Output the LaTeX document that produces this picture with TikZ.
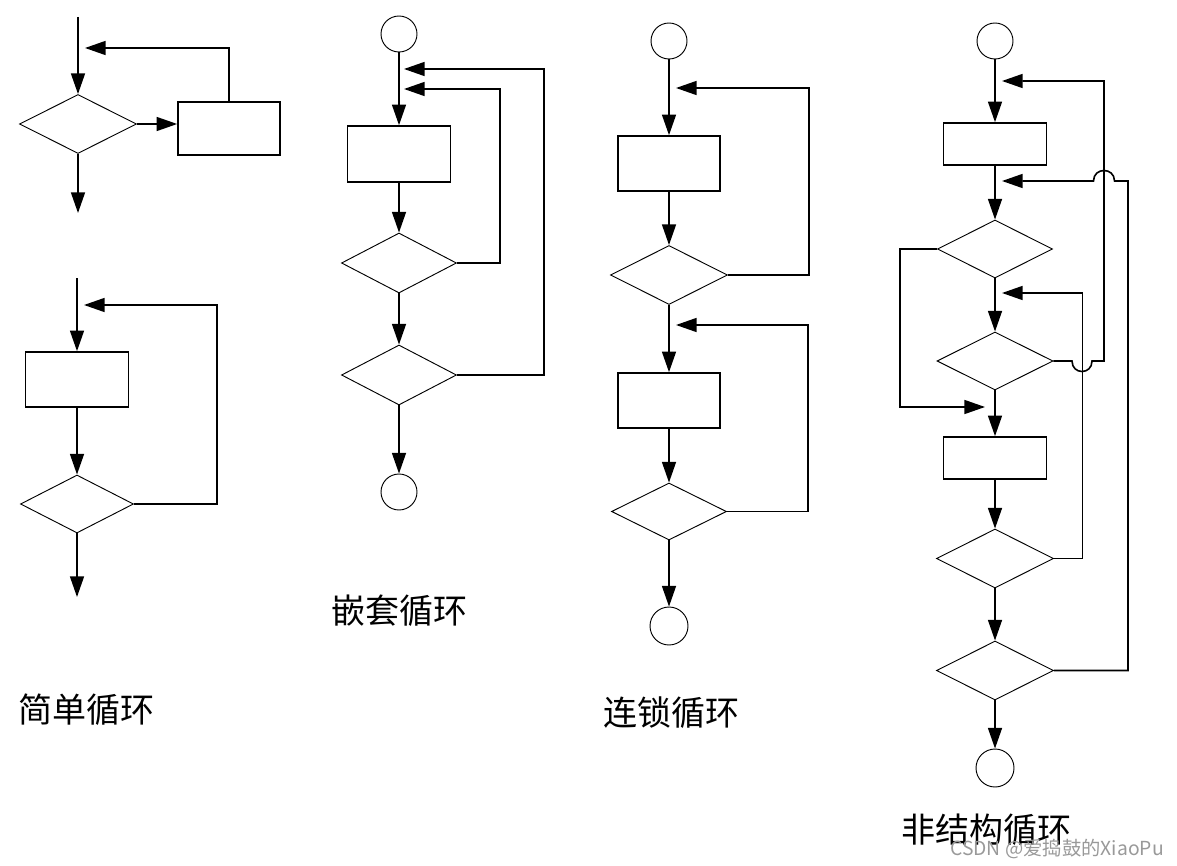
\documentclass[tikz,border=0pt]{standalone}
\usepackage{fontspec}
\newfontfamily\cjk{Noto Sans CJK SC}
\usetikzlibrary{shapes.geometric,arrows.meta}
\begin{document}
\begin{tikzpicture}[x=0.75pt,y=-0.75pt,
  arr/.style={line width=1.2pt,-{Triangle[length=15.5pt,width=10.5pt]}},
  box/.style={draw,line width=1.2pt,inner sep=0pt,minimum width=76.5pt,minimum height=41.25pt},
  sbox/.style={draw,line width=1.2pt,inner sep=0pt,minimum width=77.25pt,minimum height=31.5pt},
  dia/.style={diamond,draw,line width=0.7pt,inner sep=0pt,minimum width=87pt,minimum height=44pt},
  circ/.style={circle,draw,line width=0.7pt,inner sep=0pt,minimum size=27pt},
  lbl/.style={font=\cjk\fontsize{25.5}{30}\selectfont,inner sep=0pt},
  wm/.style={font=\cjk\fontsize{14.5}{16}\selectfont,text=black!40,inner sep=0pt}]
\useasboundingbox (0,0) rectangle (1177,866);

% ---------- simple loop (top) ----------
\coordinate (s1) at (78,17);
\node[dia,minimum width=87.75pt,minimum height=44.25pt] (d1) at (78,124) {};
\node[box,minimum height=39.75pt] (r1) at (229,128.5) {};
\coordinate (f1) at (85,48);
\coordinate (e1) at (78,213);
\draw[arr] (s1) -- (d1.north);
\draw[arr] (d1.east) -- (d1.east -| r1.west);
\draw[arr] (r1.north) |- (f1);
\draw[arr] (d1.south) -- (e1);

% ---------- simple loop (bottom) ----------
\coordinate (s2) at (77,278);
\coordinate (f2) at (84,305);
\node[box,minimum width=77.25pt] (r2) at (77,379.5) {};
\node[dia,minimum width=84.75pt,minimum height=43.5pt] (d2) at (77,504) {};
\coordinate (e2) at (77,597);
\draw[arr] (s2) -- (r2.north);
\draw[arr] (r2.south) -- (d2.north);
\draw[arr] (d2.east) -- ++(83,0) |- (f2);
\draw[arr] (d2.south) -- (e2);

% ---------- nested loop ----------
\node[circ] (c2a) at (399,34) {};
\node[box,minimum width=77.25pt,minimum height=42pt] (r3) at (399,154) {};
\node[dia,minimum width=86.25pt,minimum height=45pt] (d3) at (399,263) {};
\node[dia,minimum width=86.25pt,minimum height=45pt] (d4) at (399,375) {};
\node[circ] (c2b) at (399,492) {};
\coordinate (f3) at (404,69);
\coordinate (f4) at (404,89);
\draw[arr] (c2a.south) -- (r3.north);
\draw[arr] (r3.south) -- (d3.north);
\draw[arr] (d3.south) -- (d4.north);
\draw[arr] (d4.south) -- (c2b.north);
\draw[arr] (d3.east) -- ++(43,0) |- (f4);
\draw[arr] (d4.east) -- ++(87,0) |- (f3);

% ---------- chained loop ----------
\node[circ] (c3a) at (669,41) {};
\node[box] (r5) at (669,163.5) {};
\node[dia,minimum width=87.75pt,minimum height=44.25pt] (d5) at (669,275) {};
\node[box] (r6) at (669,400.5) {};
\node[dia,minimum width=86.25pt,minimum height=42.75pt] (d6) at (669,511.5) {};
\node[circ,minimum size=28.5pt] (c3b) at (669,626) {};
\coordinate (f5) at (676,88);
\coordinate (f6) at (676,325);
\draw[arr] (c3a.south) -- (r5.north);
\draw[arr] (r5.south) -- (d5.north);
\draw[arr] (d5.south) -- (r6.north);
\draw[arr] (r6.south) -- (d6.north);
\draw[arr] (d6.south) -- (c3b.north);
\draw[arr] (d5.east) -- ++(81,0) |- (f5);
\draw[arr] (d6.east) -- ++(81,0) |- (f6);

% ---------- unstructured loop ----------
\node[circ] (c4a) at (995,41) {};
\node[sbox] (r7) at (995,144) {};
\node[dia,minimum width=86.25pt,minimum height=43.5pt] (d7) at (995,249) {};
\node[dia,minimum width=87pt,minimum height=43.5pt] (d8) at (995,361) {};
\node[sbox] (r8) at (995,458) {};
\node[dia,minimum width=87.75pt,minimum height=44.25pt] (d9) at (995,558.5) {};
\node[dia,minimum width=87.75pt,minimum height=44.25pt] (d10) at (995,670.5) {};
\node[circ,minimum size=28.5pt] (c4b) at (995,768) {};
\coordinate (fA) at (1002,81);
\coordinate (fB) at (1002,181);
\coordinate (fC) at (1002,293);
\coordinate (fL) at (985,407);
\draw[arr] (c4a.south) -- (r7.north);
\draw[arr] (r7.south) -- (d7.north);
\draw[arr] (d7.south) -- (d8.north);
\draw[arr] (d8.south) -- (r8.north);
\draw[arr] (r8.south) -- (d9.north);
\draw[arr] (d9.south) -- (d10.north);
\draw[arr] (d10.south) -- (c4b.north);
\draw[arr] (d7.west) -- ++(-37,0) |- (fL);
\draw[arr] (d9.east) -- ++(28.5,0) |- (fC);
\draw[arr] (d8.east) -- (1072,361) .. controls (1072,375) and (1092,375) .. (1092,361) -- (1104,361) -- (1104,81) -- (fA);
\draw[arr] (d10.east) -- (1128,670.5) -- (1128,181) -- (1114.5,181) .. controls (1114.5,167) and (1093.5,167) .. (1093.5,181) -- (fB);

% ---------- labels ----------
\node[lbl] (l1) at (86,710) {简单循环};
\node[lbl] (l2) at (399,611) {嵌套循环};
\node[lbl] (l3) at (671,713) {连锁循环};
\node[lbl] (l4) at (986,830) {非结构循环};
\node[wm] (wm) at (1057,849) {CSDN @爱捣鼓的XiaoPu};
\end{tikzpicture}
\end{document}
